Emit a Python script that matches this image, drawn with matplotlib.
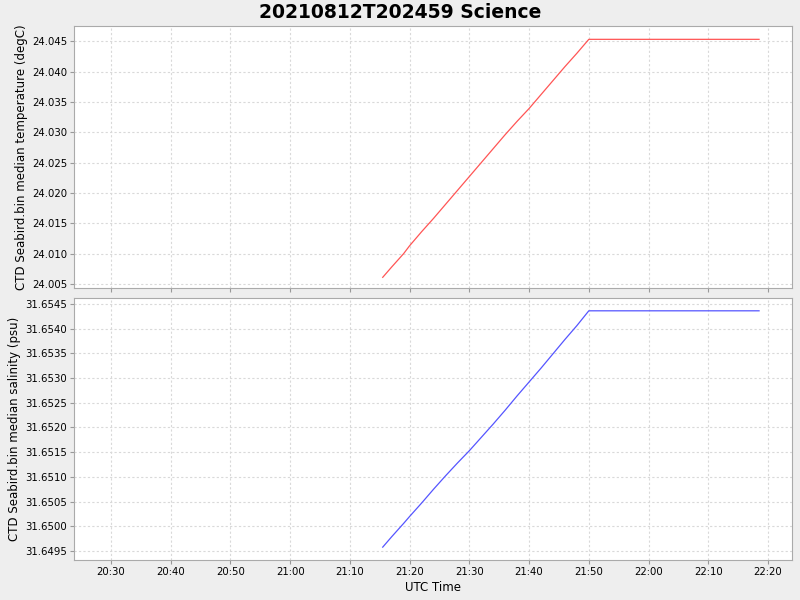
import matplotlib
matplotlib.use("Agg")
import matplotlib.pyplot as plt
import matplotlib.dates as mdates
from matplotlib.ticker import FormatStrFormatter
from datetime import datetime, timedelta

# --- data ---
base = datetime(2021, 8, 12, 21, 0)
minutes = [15.5, 17, 19, 20, 22, 24, 26, 28, 30, 32, 34, 36, 38, 40,
           42, 44, 46, 48, 50, 78.5]
temperature = [24.0061, 24.0078, 24.0100, 24.0113, 24.0136, 24.0158, 24.0181,
               24.0204, 24.0227, 24.0250, 24.0273, 24.0296, 24.0318, 24.0339,
               24.0362, 24.0385, 24.0408, 24.0430, 24.0453, 24.0453]
salinity = [31.64958, 31.64979, 31.65006, 31.65020, 31.65047, 31.65075,
            31.65102, 31.65128, 31.65153, 31.65180, 31.65207, 31.65235,
            31.65264, 31.65292, 31.65320, 31.65349, 31.65378, 31.65406,
            31.65436, 31.65436]
times = [base + timedelta(minutes=m) for m in minutes]

title = "20210812T202459 Science"
xlim = (datetime(2021, 8, 12, 20, 23, 49), datetime(2021, 8, 12, 22, 24, 1))

fig = plt.figure(figsize=(8, 6), dpi=100, facecolor="#eeeeee")
ax1 = fig.add_axes([0.0925, 0.52, 0.8975, 0.4367])
ax2 = fig.add_axes([0.0925, 0.0667, 0.8975, 0.4367], sharex=ax1)

ax1.plot(times, temperature, color="#ff5555", lw=0.9)
ax2.plot(times, salinity, color="#5555ff", lw=0.9)

ax1.set_ylim(24.00434, 24.0475)
ax1.set_yticks([24.005 + 0.005 * i for i in range(9)])
ax1.yaxis.set_major_formatter(FormatStrFormatter("%.3f"))
ax1.set_ylabel("CTD Seabird.bin median temperature (degC)", fontsize=8.5, labelpad=3)

ax2.set_ylim(31.64932, 31.65462)
ax2.set_yticks([31.6495 + 0.0005 * i for i in range(11)])
ax2.yaxis.set_major_formatter(FormatStrFormatter("%.4f"))
ax2.set_ylabel("CTD Seabird.bin median salinity (psu)", fontsize=8.5, labelpad=3)
ax2.set_xlabel("UTC Time", fontsize=8.5, labelpad=3)

ax2.set_xlim(xlim)
ax2.xaxis.set_major_locator(mdates.MinuteLocator(byminute=[0, 10, 20, 30, 40, 50]))
ax2.xaxis.set_major_formatter(mdates.DateFormatter("%H:%M"))
ax1.tick_params(axis="x", labelbottom=False, length=0)

for ax in (ax1, ax2):
    ax.set_facecolor("white")
    ax.grid(True, color="#d9d9d9", linestyle=(0, (2, 2)), lw=0.8)
    for s in ax.spines.values():
        s.set_color("#aaaaaa")
    ax.tick_params(labelsize=7.3, color="#999999", length=3, width=0.8, pad=2)

fig.suptitle(title, fontsize=13.5, fontweight="bold", y=0.995)
fig.savefig("out.png", dpi=100, facecolor=fig.get_facecolor())
